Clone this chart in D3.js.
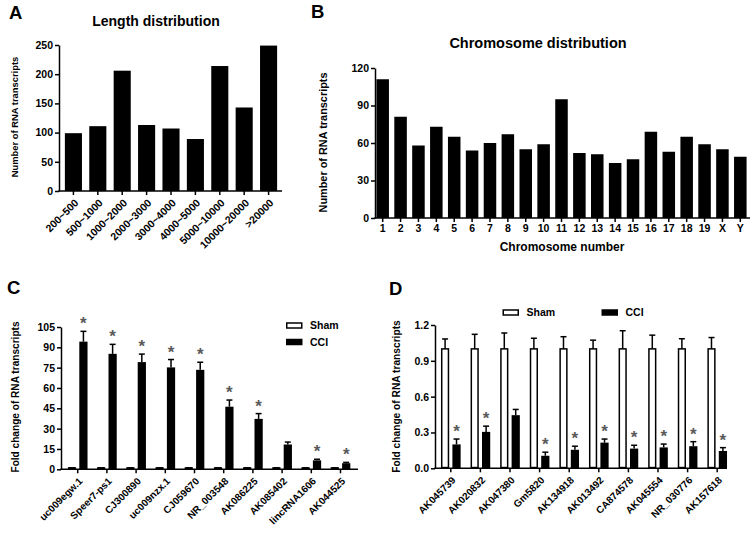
<!DOCTYPE html>
<html>
<head>
<meta charset="utf-8">
<script src="https://cdn.jsdelivr.net/npm/d3@7"></script>
<style>
  html, body { margin: 0; padding: 0; background: #fff; }
  text { font-family: Arial, "Liberation Sans", sans-serif; font-weight: bold; fill: #000; }
</style>
</head>
<body>
<script>
// ---------------- DATA ----------------
const lengthCats = ["200~500","500~1000","1000~2000","2000~3000","3000~4000","4000~5000","5000~10000","10000~20000",">20000"];
const lengthCounts = [99, 111, 206, 113, 107, 89, 214, 143, 249];
const lengthTicks = [0, 50, 100, 150, 200, 250];

const chromCats = ["1","2","3","4","5","6","7","8","9","10","11","12","13","14","15","16","17","18","19","X","Y"];
const chromCounts = [111, 81, 58, 73, 65, 54, 60, 67, 55, 59, 95, 52, 51, 44, 47, 69, 53, 65, 59, 55, 49];
const chromTicks = [0, 30, 60, 90, 120];

const groups = ["Sham", "CCI"];

const upGenes = ["uc009egw.1","Speer7-ps1","CJ300890","uc009nzx.1","CJ059670","NR_003548","AK086225","AK085402","lincRNA1606","AK044525"];
const upSham = [1, 1, 1, 1, 1, 1, 1, 1, 1, 1];
const upShamSem = [0.1, 0.1, 0.1, 0.1, 0.1, 0.1, 0.1, 0.1, 0.1, 0.1];
const upCCI = [94.2, 85.2, 79.1, 75.2, 73.4, 46.2, 37.2, 18.3, 6.6, 4.5];
const upCCISem = [7.6, 7.0, 5.9, 5.8, 5.6, 4.9, 3.9, 1.8, 0.8, 0.6];
const upSig = [true, true, true, true, true, true, true, false, true, true];
const upTicks = [0, 15, 30, 45, 60, 75, 90, 105];

const downGenes = ["AK045739","AK020832","AK047380","Gm5820","AK134918","AK013492","CA874578","AK045554","NR_030776","AK157618"];
const downSham = [1, 1, 1, 1, 1, 1, 1, 1, 1, 1];
const downShamSem = [0.083, 0.122, 0.133, 0.089, 0.102, 0.073, 0.152, 0.115, 0.085, 0.095];
const downCCI = [0.20, 0.305, 0.445, 0.105, 0.155, 0.215, 0.165, 0.175, 0.185, 0.145];
const downCCISem = [0.045, 0.048, 0.048, 0.030, 0.030, 0.030, 0.028, 0.028, 0.038, 0.028];
const downSig = [true, true, false, true, true, true, true, true, true, true];
const downTicks = [0, 0.3, 0.6, 0.9, 1.2];

// ---------------- SETUP ----------------
const W = 756, H = 533;
const svg = d3.select("body").append("svg").attr("width", W).attr("height", H);
svg.append("rect").attr("width", W).attr("height", H).attr("fill", "#fff");

const AXW = 1.5;

function styleAxis(g, fs) {
  g.selectAll("path").attr("stroke", "#000").attr("stroke-width", AXW);
  g.selectAll("line").attr("stroke", "#000").attr("stroke-width", AXW);
  g.selectAll("text").style("font-size", fs + "px").style("font-weight", "bold")
    .style("font-family", 'Arial, "Liberation Sans", sans-serif').attr("fill", "#000");
}

function drawYAxis(y, x, ticks, fmt) {
  const g = svg.append("g").attr("transform", `translate(${x},0)`)
    .call(d3.axisLeft(y).tickValues(ticks).tickSize(4).tickPadding(2).tickSizeOuter(0).tickFormat(fmt));
  styleAxis(g, 10.5);
  return g;
}

function drawXBaseline(x0, x1, y) {
  svg.append("line").attr("x1", x0 - AXW / 2).attr("x2", x1).attr("y1", y).attr("y2", y)
    .attr("stroke", "#000").attr("stroke-width", AXW);
}

function drawXAxisTicks(x, y, rotated, fs) {
  const g = svg.append("g").attr("transform", `translate(0,${y})`)
    .call(d3.axisBottom(x).tickSize(4).tickPadding(3).tickSizeOuter(0));
  g.select(".domain").remove();
  styleAxis(g, fs);
  if (rotated) {
    g.selectAll(".tick text")
      .attr("x", 0).attr("y", 0).attr("dy", "0.35em")
      .attr("text-anchor", "end")
      .attr("transform", "translate(3,10) rotate(-45)");
  }
  return g;
}

function yLabel(text, cx, cy, fs) {
  svg.append("text").attr("transform", `translate(${cx},${cy}) rotate(-90)`)
    .attr("text-anchor", "middle").attr("dy", "0.35em")
    .style("font-size", fs + "px").text(text);
}

function panelLetter(t, x, y) {
  svg.append("text").attr("x", x).attr("y", y).style("font-size", "18.5px").text(t);
}

// ---------------- PANEL A ----------------
{
  const axX = 59, axEnd = 282;
  const y = d3.scaleLinear().domain([0, 250]).range([191, 45]);
  const x = d3.scaleBand().domain(lengthCats).range([axX + 1, axEnd]).paddingInner(0.3).paddingOuter(0.2);
  svg.append("g").selectAll("rect").data(lengthCounts).join("rect")
    .attr("x", (d, i) => x(lengthCats[i])).attr("width", x.bandwidth())
    .attr("y", d => y(d)).attr("height", d => y(0) - y(d)).attr("fill", "#000");
  drawXAxisTicks(x, y(0), true, 10.5);
  drawXBaseline(axX, axEnd, y(0));
  drawYAxis(y, axX, lengthTicks, d3.format("d"));
  yLabel("Number of RNA transcripts", 15, 117, 9.4);
  svg.append("text").attr("x", 156).attr("y", 26).attr("text-anchor", "middle")
    .style("font-size", "14px").text("Length distribution");
  panelLetter("A", 9, 19);
}

// ---------------- PANEL B ----------------
{
  const axX = 375, axEnd = 750;
  const y = d3.scaleLinear().domain([0, 120]).range([218, 68]);
  const x = d3.scaleBand().domain(chromCats).range([axX, 748]).paddingInner(0.3).paddingOuter(0.08);
  svg.append("g").selectAll("rect").data(chromCounts).join("rect")
    .attr("x", (d, i) => x(chromCats[i])).attr("width", x.bandwidth())
    .attr("y", d => y(d)).attr("height", d => y(0) - y(d)).attr("fill", "#000");
  drawXAxisTicks(x, y(0), false, 10.5);
  drawXBaseline(axX, axEnd, y(0));
  drawYAxis(y, axX, chromTicks, d3.format("d"));
  yLabel("Number of RNA transcripts", 323, 142.5, 10.9);
  svg.append("text").attr("x", 538).attr("y", 48).attr("text-anchor", "middle")
    .style("font-size", "14.5px").text("Chromosome distribution");
  svg.append("text").attr("x", 562).attr("y", 250.5).attr("text-anchor", "middle")
    .style("font-size", "12px").text("Chromosome number");
  panelLetter("B", 311, 17.5);
}

// ---------------- grouped bar helper ----------------
function groupedPanel(opts) {
  const { genes, sham, shamSem, cci, cciSem, sig, ticks, fmt, y, axX, axEnd, c0, step } = opts;
  const x0 = d3.scaleBand().domain(genes).range([c0 - step / 2, c0 - step / 2 + step * genes.length]);
  const x1 = d3.scaleBand().domain(groups).range([-10.4, 10.4]).paddingInner(0.28).paddingOuter(0.05);
  const rows = genes.map((g, i) => ({
    gene: g,
    vals: [
      { grp: "Sham", v: sham[i], e: shamSem[i], sig: false },
      { grp: "CCI", v: cci[i], e: cciSem[i], sig: sig[i] }
    ]
  }));
  const gg = svg.append("g").selectAll("g").data(rows).join("g")
    .attr("transform", d => `translate(${x0(d.gene) + x0.bandwidth() / 2},0)`);
  const bars = gg.selectAll("g").data(d => d.vals).join("g");
  bars.append("line")
    .attr("x1", d => x1(d.grp) + x1.bandwidth() / 2).attr("x2", d => x1(d.grp) + x1.bandwidth() / 2)
    .attr("y1", d => y(d.v)).attr("y2", d => y(d.v + d.e))
    .attr("stroke", "#000").attr("stroke-width", 1.5);
  bars.append("line")
    .attr("x1", d => x1(d.grp) + x1.bandwidth() / 2 - 3).attr("x2", d => x1(d.grp) + x1.bandwidth() / 2 + 3)
    .attr("y1", d => y(d.v + d.e)).attr("y2", d => y(d.v + d.e))
    .attr("stroke", "#000").attr("stroke-width", 1.5);
  bars.append("rect")
    .attr("x", d => x1(d.grp) + (d.grp === "Sham" ? 0.75 : 0))
    .attr("width", d => x1.bandwidth() - (d.grp === "Sham" ? 1.5 : 0))
    .attr("y", d => y(d.v))
    .attr("height", d => Math.max(0, y(0) - y(d.v) - (d.grp === "Sham" ? 0.75 : 0)))
    .attr("fill", d => d.grp === "Sham" ? "#fff" : "#000")
    .attr("stroke", "#000").attr("stroke-width", d => d.grp === "Sham" ? 1.5 : 0);
  bars.filter(d => d.sig).append("text")
    .attr("x", d => x1(d.grp) + x1.bandwidth() / 2)
    .attr("y", d => y(d.v + d.e) - 2)
    .attr("text-anchor", "middle")
    .style("font-size", "17px").style("font-weight", "bold").style("fill", "#5a5a5a")
    .text("*");
  drawXAxisTicks(x0, y(0), true, 10);
  drawXBaseline(axX, axEnd, y(0));
  drawYAxis(y, axX, ticks, fmt);
}

function legendItem(x, yc, grp) {
  svg.append("rect").attr("x", x + 0.75).attr("y", yc - 2.5).attr("width", 15).attr("height", 5)
    .attr("fill", grp === "Sham" ? "#fff" : "#000").attr("stroke", "#000").attr("stroke-width", 1.5);
  svg.append("text").attr("x", x + 24).attr("y", yc).attr("dy", "0.35em")
    .style("font-size", "10.5px").text(grp);
}

// ---------------- PANEL C ----------------
{
  const y = d3.scaleLinear().domain([0, 105]).range([469.3, 327]);
  groupedPanel({
    genes: upGenes, sham: upSham, shamSem: upShamSem, cci: upCCI, cciSem: upCCISem, sig: upSig,
    ticks: upTicks, fmt: d3.format("d"), y, axX: 61, axEnd: 358, c0: 77.7, step: 29.2
  });
  yLabel("Fold change of RNA transcripts", 15, 397, 10.1);
  legendItem(286, 325.5, groups[0]);
  legendItem(286, 342, groups[1]);
  panelLetter("C", 7, 294);
}

// ---------------- PANEL D ----------------
{
  const y = d3.scaleLinear().domain([0, 1.2]).range([468.3, 325]);
  groupedPanel({
    genes: downGenes, sham: downSham, shamSem: downShamSem, cci: downCCI, cciSem: downCCISem, sig: downSig,
    ticks: downTicks, fmt: d3.format(".1f"), y, axX: 435, axEnd: 727, c0: 450.8, step: 29.6
  });
  yLabel("Fold change of RNA transcripts", 396.5, 396.5, 10.2);
  legendItem(502.5, 312.5, groups[0]);
  legendItem(601.5, 312.5, groups[1]);
  panelLetter("D", 389, 295);
}
</script>
</body>
</html>
